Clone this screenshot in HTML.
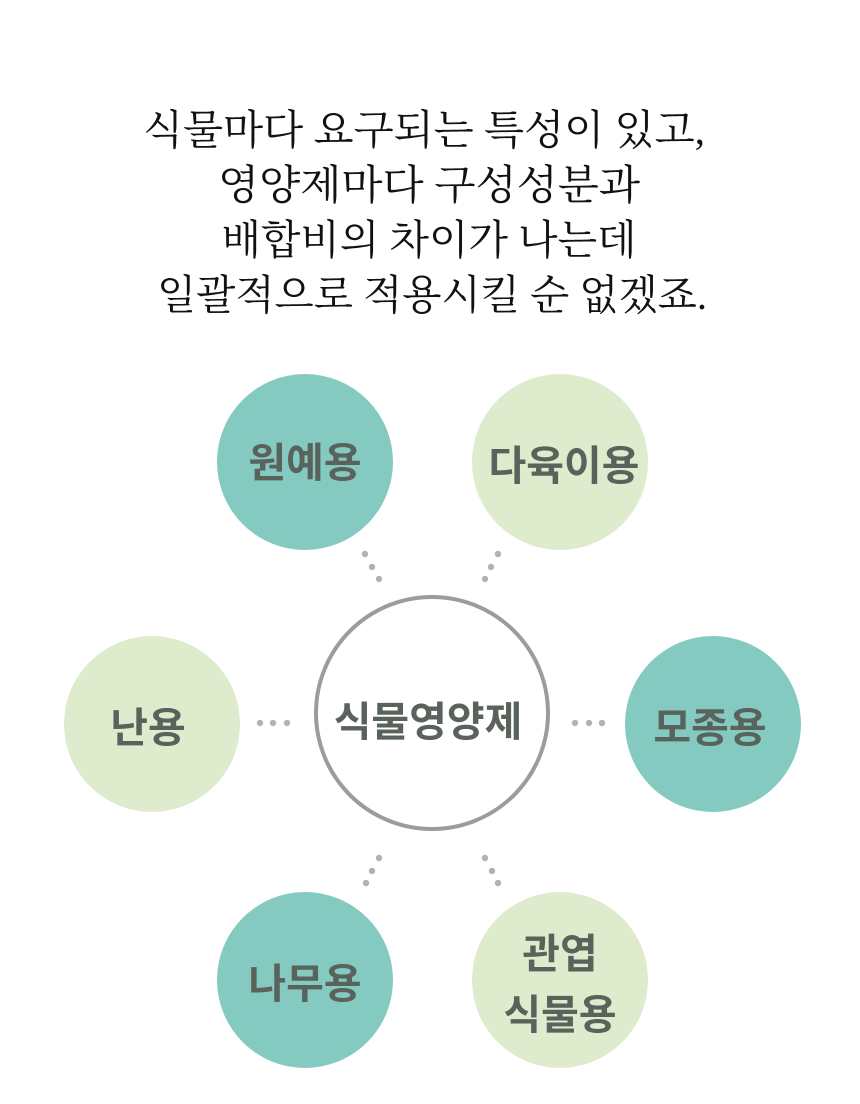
<!DOCTYPE html>
<html><head><meta charset="utf-8"><style>
html,body{margin:0;padding:0;background:#fff;width:860px;height:1104px;overflow:hidden}
svg{display:block}
.t{font-family:"Liberation Serif","Noto Serif CJK SC",serif;font-size:41px;fill:#111;text-anchor:middle}
.c{font-family:"Liberation Sans","Noto Sans CJK KR",sans-serif;font-size:41px;font-weight:bold;fill:#5a625c;text-anchor:middle}
</style></head><body>
<svg width="860" height="1104" viewBox="0 0 860 1104">
<text class="t" x="424" y="144" textLength="562" lengthAdjust="spacingAndGlyphs">식물마다 요구되는 특성이 있고,</text>
<text class="t" x="429" y="199" textLength="422" lengthAdjust="spacingAndGlyphs">영양제마다 구성성분과</text>
<text class="t" x="429" y="254" textLength="415" lengthAdjust="spacingAndGlyphs">배합비의 차이가 나는데</text>
<text class="t" x="432" y="309" textLength="550" lengthAdjust="spacingAndGlyphs">일괄적으로 적용시킬 순 없겠죠.</text>
<g fill="#b0b3b1">
<circle cx="365" cy="554" r="3.2"/><circle cx="372" cy="567" r="3.2"/><circle cx="379" cy="579" r="3.2"/>
<circle cx="498" cy="554" r="3.2"/><circle cx="491" cy="567" r="3.2"/><circle cx="485" cy="579" r="3.2"/>
<circle cx="260" cy="723" r="3.2"/><circle cx="273" cy="723" r="3.2"/><circle cx="287" cy="723" r="3.2"/>
<circle cx="575" cy="723" r="3.2"/><circle cx="589" cy="723" r="3.2"/><circle cx="602" cy="723" r="3.2"/>
<circle cx="379" cy="858" r="3.2"/><circle cx="372" cy="871" r="3.2"/><circle cx="366" cy="883" r="3.2"/>
<circle cx="485" cy="858" r="3.2"/><circle cx="492" cy="871" r="3.2"/><circle cx="498" cy="883" r="3.2"/>
</g>
<circle cx="432" cy="713" r="116" fill="#fff" stroke="#989e9a" stroke-width="4"/>
<text class="c" x="428" y="736">식물영양제</text>
<circle cx="305" cy="462" r="88" fill="#84cac1"/>
<text class="c" x="305" y="477">원예용</text>
<circle cx="560" cy="462" r="88" fill="#deebcd"/>
<text class="c" x="564" y="480">다육이용</text>
<circle cx="152" cy="724" r="88" fill="#deebcd"/>
<text class="c" x="148" y="742">난용</text>
<circle cx="713" cy="724" r="88" fill="#84cac1"/>
<text class="c" x="710" y="742">모종용</text>
<circle cx="305" cy="980" r="88" fill="#84cac1"/>
<text class="c" x="305" y="998">나무용</text>
<circle cx="560" cy="980" r="88" fill="#deebcd"/>
<text class="c" x="560" y="968">관엽</text>
<text class="c" x="560" y="1029">식물용</text>
</svg>
</body></html>
